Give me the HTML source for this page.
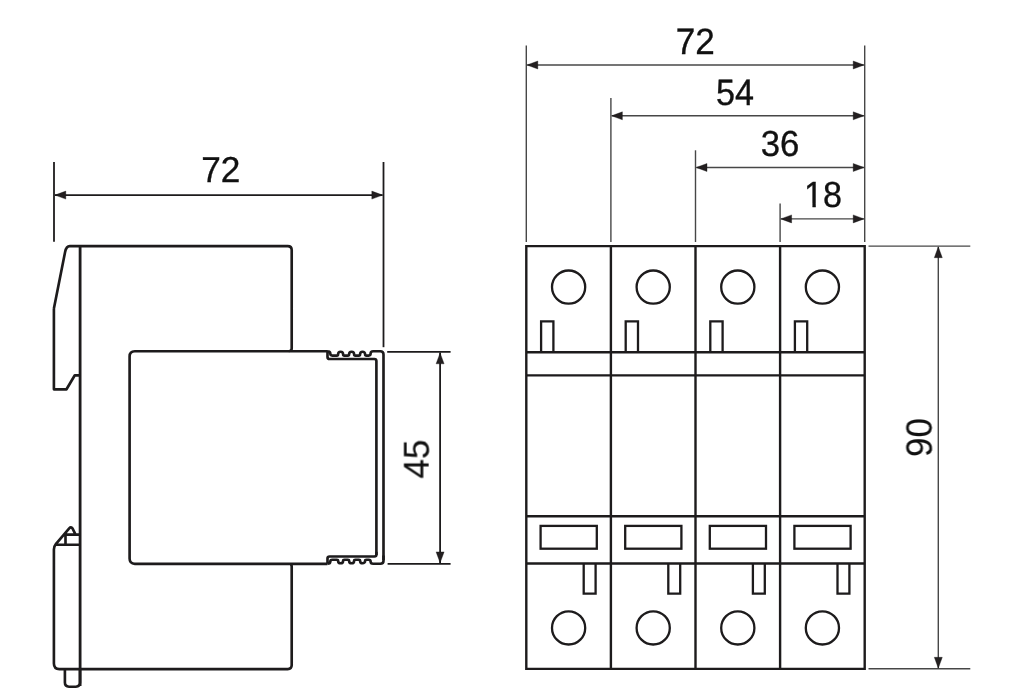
<!DOCTYPE html>
<html><head><meta charset="utf-8"><title>Dimensions</title>
<style>html,body{margin:0;padding:0;background:#fff;}body{width:1024px;height:694px;overflow:hidden;font-family:"Liberation Sans",sans-serif;}svg{display:block;}</style>
</head><body>
<svg width="1024" height="694" viewBox="0 0 1024 694" font-family="Liberation Sans, sans-serif" fill="#111" text-rendering="geometricPrecision" stroke="#111" stroke-width="0.35"><line x1="54.00" y1="162.00" x2="54.00" y2="241.70" stroke="#1d1b1c" stroke-width="1.80"/>
<line x1="383.50" y1="162.00" x2="383.50" y2="347.20" stroke="#1d1b1c" stroke-width="1.80"/>
<line x1="55.00" y1="195.10" x2="382.50" y2="195.10" stroke="#1d1b1c" stroke-width="1.80"/>
<polygon points="54.90,195.10 65.80,191.10 65.80,199.10" fill="#231f20"/>
<polygon points="382.70,195.10 371.80,191.10 371.80,199.10" fill="#231f20"/>
<line x1="387.20" y1="351.80" x2="450.60" y2="351.80" stroke="#1d1b1c" stroke-width="1.80"/>
<line x1="387.60" y1="563.80" x2="450.60" y2="563.80" stroke="#1d1b1c" stroke-width="1.80"/>
<line x1="440.10" y1="352.50" x2="440.10" y2="563.30" stroke="#1d1b1c" stroke-width="1.80"/>
<polygon points="440.10,352.90 436.10,363.80 444.10,363.80" fill="#231f20"/>
<polygon points="440.10,562.80 436.10,551.90 444.10,551.90" fill="#231f20"/>
<path d="M 80.1,247 L 80.1,686" stroke="#1d1b1c" stroke-width="2.8"/>
<path d="M 327.5,351.2 L 327.5,356.9 Q 327.5,359.0 329.6,359.0 L 374.3,359.0 Q 376.4,359.0 376.4,361.1 L 376.4,364 M 327.5,351.2 Q 330.3,351.2 330.3,353.6 Q 330.3,355.6 332.3,355.6 L 336.80,355.60 Q 338.10,355.60 338.10,354.30 L 338.10,354.20 A 2.50 2.50 0 0 1 343.10,354.20 L 343.10,354.30 Q 343.10,355.60 344.40,355.60 L 347.80,355.60 Q 349.10,355.60 349.10,354.30 L 349.10,354.20 A 2.50 2.50 0 0 1 354.10,354.20 L 354.10,354.30 Q 354.10,355.60 355.40,355.60 L 358.80,355.60 Q 360.10,355.60 360.10,354.30 L 360.10,354.20 A 2.50 2.50 0 0 1 365.10,354.20 L 365.10,354.30 Q 365.10,355.60 366.40,355.60 L 368.6,355.6 Q 370.6,355.6 370.6,353.6 Q 370.6,351.2 373.2,351.2 L 380.3,351.2 Q 383.5,351.2 383.5,354.4 L 383.5,360" fill="none" stroke="#1d1b1c" stroke-width="2.65" stroke-linejoin="round" transform="matrix(1,0,0,-0.949,0,897.1)"/>
<path d="M 53.9,308.6 L 65.1,252 Q 66.2,246.1 69.8,246.1 L 287.7,246.1 Q 291.7,246.1 291.7,250.1 L 291.7,348.5 Q 291.7,351.3 288.9,351.3 M 53.9,308.6 L 53.9,389.3 L 66.5,389.3 L 74.8,375.3 L 79.9,375.3 M 53.9,663.6 L 53.9,549.5 Q 53.9,546.5 55.8,544.2 L 69.2,528.3 Q 71,526.3 72.6,528.6 L 75.6,534.6 M 55,544.7 L 79.9,544.7 M 64.3,534.6 L 79.9,534.6 M 65.5,534.6 L 65.5,544.7 M 53.9,663.6 Q 53.9,669.1 59.4,669.1 L 287.7,669.1 Q 291.7,669.1 291.7,665.1 L 291.7,566.5 Q 291.7,563.7 288.9,563.7 M 64.9,669.1 L 64.9,682.6 Q 64.9,686.7 69.0,686.7 L 75.9,686.7 Q 80.0,686.7 80.0,682.6 L 80.0,669.1 M 327.6,351.2 L 134.8,351.2 Q 129.6,351.2 129.6,356.4 L 129.6,558.6 Q 129.6,563.8 134.8,563.8 L 327.4,563.8 M 327.5,351.2 L 327.5,356.9 Q 327.5,359.0 329.6,359.0 L 374.3,359.0 Q 376.4,359.0 376.4,361.1 L 376.4,364 M 327.5,351.2 Q 330.3,351.2 330.3,353.6 Q 330.3,355.6 332.3,355.6 L 336.80,355.60 Q 338.10,355.60 338.10,354.30 L 338.10,354.20 A 2.50 2.50 0 0 1 343.10,354.20 L 343.10,354.30 Q 343.10,355.60 344.40,355.60 L 347.80,355.60 Q 349.10,355.60 349.10,354.30 L 349.10,354.20 A 2.50 2.50 0 0 1 354.10,354.20 L 354.10,354.30 Q 354.10,355.60 355.40,355.60 L 358.80,355.60 Q 360.10,355.60 360.10,354.30 L 360.10,354.20 A 2.50 2.50 0 0 1 365.10,354.20 L 365.10,354.30 Q 365.10,355.60 366.40,355.60 L 368.6,355.6 Q 370.6,355.6 370.6,353.6 Q 370.6,351.2 373.2,351.2 L 380.3,351.2 Q 383.5,351.2 383.5,354.4 L 383.5,360 M 376.4,362 L 376.4,555 M 383.5,358 L 383.5,560" fill="none" stroke="#1d1b1c" stroke-width="2.65" stroke-linejoin="round"/>
<line x1="526.30" y1="45.50" x2="526.30" y2="242.00" stroke="#474747" stroke-width="1.40"/>
<line x1="864.70" y1="45.50" x2="864.70" y2="242.00" stroke="#474747" stroke-width="1.40"/>
<line x1="527.30" y1="65.00" x2="863.70" y2="65.00" stroke="#474747" stroke-width="1.40"/>
<polygon points="526.90,65.00 537.80,61.00 537.80,69.00" fill="#231f20"/>
<polygon points="864.10,65.00 853.20,61.00 853.20,69.00" fill="#231f20"/>
<line x1="610.90" y1="98.00" x2="610.90" y2="242.00" stroke="#474747" stroke-width="1.40"/>
<line x1="611.90" y1="115.80" x2="863.70" y2="115.80" stroke="#474747" stroke-width="1.40"/>
<polygon points="611.50,115.80 622.40,111.80 622.40,119.80" fill="#231f20"/>
<polygon points="864.10,115.80 853.20,111.80 853.20,119.80" fill="#231f20"/>
<line x1="695.50" y1="150.30" x2="695.50" y2="242.00" stroke="#474747" stroke-width="1.40"/>
<line x1="696.50" y1="167.50" x2="863.70" y2="167.50" stroke="#474747" stroke-width="1.40"/>
<polygon points="696.10,167.50 707.00,163.50 707.00,171.50" fill="#231f20"/>
<polygon points="864.10,167.50 853.20,163.50 853.20,171.50" fill="#231f20"/>
<line x1="780.10" y1="203.60" x2="780.10" y2="242.00" stroke="#474747" stroke-width="1.40"/>
<line x1="781.10" y1="218.90" x2="863.70" y2="218.90" stroke="#474747" stroke-width="1.40"/>
<polygon points="780.70,218.90 791.60,214.90 791.60,222.90" fill="#231f20"/>
<polygon points="864.10,218.90 853.20,214.90 853.20,222.90" fill="#231f20"/>
<line x1="868.50" y1="246.10" x2="970.30" y2="246.10" stroke="#474747" stroke-width="1.40"/>
<line x1="868.50" y1="668.80" x2="970.30" y2="668.80" stroke="#474747" stroke-width="1.40"/>
<line x1="938.30" y1="247.00" x2="938.30" y2="668.00" stroke="#474747" stroke-width="1.40"/>
<polygon points="938.30,246.80 934.30,257.70 942.30,257.70" fill="#231f20"/>
<polygon points="938.30,668.20 934.30,657.30 942.30,657.30" fill="#231f20"/>
<path d="M 526.30,246.10 H 864.70 V 668.90 H 526.30 Z M 610.90,246.10 V 668.90 M 695.50,246.10 V 668.90 M 780.10,246.10 V 668.90 M 526.30,352.20 H 864.70 M 526.30,375.40 H 864.70 M 526.30,516.20 H 864.70 M 526.30,563.50 H 864.70" fill="none" stroke="#1d1b1c" stroke-width="2.40"/>
<g fill="none" stroke="#1d1b1c" stroke-width="2.3"><circle cx="568.60" cy="287.1" r="16.6"/><circle cx="568.60" cy="627.9" r="16.6"/><path d="M 541.10,351.9 V 321.4 H 553.40 V 351.9"/><rect x="540.60" y="525.9" width="56.20" height="22.8"/><path d="M 583.70,563.4 V 593.7 H 595.60 V 563.4"/><circle cx="653.20" cy="287.1" r="16.6"/><circle cx="653.20" cy="627.9" r="16.6"/><path d="M 625.70,351.9 V 321.4 H 638.00 V 351.9"/><rect x="625.20" y="525.9" width="56.20" height="22.8"/><path d="M 668.30,563.4 V 593.7 H 680.20 V 563.4"/><circle cx="737.80" cy="287.1" r="16.6"/><circle cx="737.80" cy="627.9" r="16.6"/><path d="M 710.30,351.9 V 321.4 H 722.60 V 351.9"/><rect x="709.80" y="525.9" width="56.20" height="22.8"/><path d="M 752.90,563.4 V 593.7 H 764.80 V 563.4"/><circle cx="822.40" cy="287.1" r="16.6"/><circle cx="822.40" cy="627.9" r="16.6"/><path d="M 794.90,351.9 V 321.4 H 807.20 V 351.9"/><rect x="794.40" y="525.9" width="56.20" height="22.8"/><path d="M 837.50,563.4 V 593.7 H 849.40 V 563.4"/></g>
<g style="opacity:0.999"><text transform="translate(201.19,182.00) scale(0.9759,1)" font-size="36.09">72</text>
<text transform="translate(428.65,478.60) rotate(-90) scale(0.9741,1)" font-size="35.97" stroke-width="0.1">45</text>
<text transform="translate(675.80,53.60) scale(0.9580,1)" font-size="36.66">72</text>
<text transform="translate(716.03,104.64) scale(0.9303,1)" font-size="36.69">54</text>
<text transform="translate(760.78,156.25) scale(0.9573,1)" font-size="36.30">36</text>
<defs><clipPath id="c1_803"><rect x="-50" y="-80" width="200" height="76.388"/><rect x="8.978" y="-5" width="3.508" height="10"/><rect x="20.188" y="-5" width="100" height="10"/></clipPath></defs><text transform="translate(804.00,207.25) scale(0.9408,1)" font-size="36.30" clip-path="url(#c1_803)">18</text>
<text transform="translate(931.55,457.04) rotate(-90) scale(0.9636,1)" font-size="36.30" stroke-width="0.1">90</text></g></svg>
</body></html>
